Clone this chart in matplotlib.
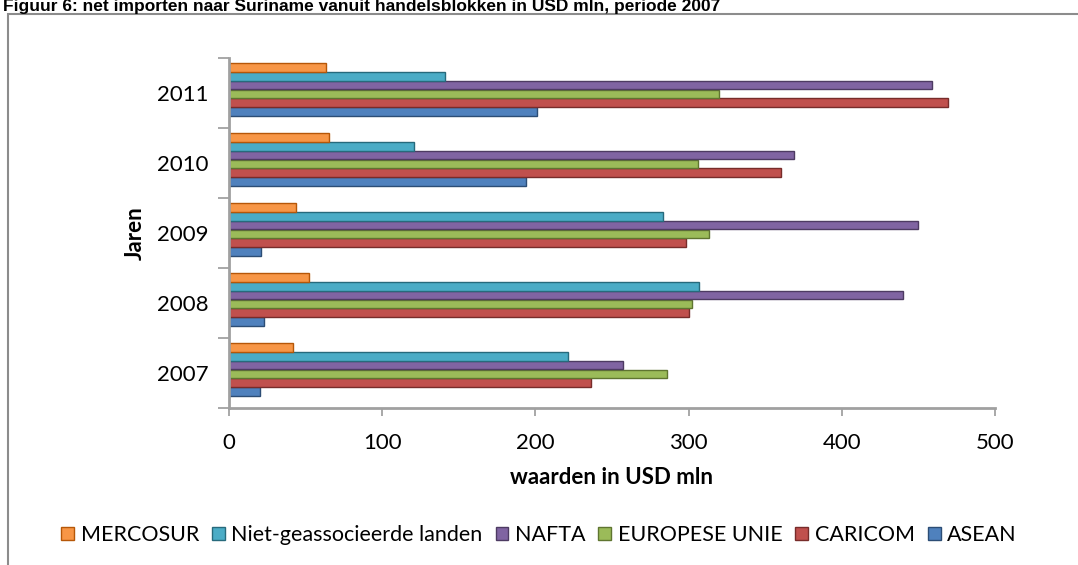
import numpy as np
import matplotlib.pyplot as plt
from matplotlib.patches import Rectangle

jaren = ['2007', '2008', '2009', '2010', '2011']
# bottom to top inside each year group
blokken = ['ASEAN', 'CARICOM', 'EUROPESE UNIE', 'NAFTA', 'Niet-geassocieerde landen', 'MERCOSUR']
asean = [20, 23, 21, 194, 201]
caricom = [236, 300, 298, 360, 469]
eu = [286, 302, 313, 306, 320]
nafta = [257, 440, 450, 369, 459]
niet = [221, 307, 283, 121, 141]
mercosur = [42, 52, 44, 65, 63]
waarden = [asean, caricom, eu, nafta, niet, mercosur]

kleuren = ['#4F81BD', '#C0504D', '#9BBB59', '#8064A2', '#4BACC6', '#F79646']
randen = ['#2C4D75', '#772C2A', '#5F7530', '#4D3B62', '#276A7C', '#B65708']

plt.rcParams['font.family'] = ['Lato', 'DejaVu Sans']

fig = plt.figure(figsize=(10.78, 5.65), dpi=100)
ax = fig.add_axes([229/1078, 1 - 408/565, 766/1078, 350/565])

y = np.arange(len(jaren))
h = 0.125
for i, (naam, vals) in enumerate(zip(blokken, waarden)):
    ax.barh(y + (i - 2.5) * h + 0.05, vals, height=h * 0.95, color=kleuren[i],
            edgecolor=randen[i], linewidth=1.0, label=naam)

ax.set_xlim(0, 500)
ax.set_ylim(-0.5, 4.5)
ax.set_xticks(range(0, 501, 100))
ax.set_yticks(y)
ax.set_yticklabels(jaren)
ax.set_yticks(np.arange(-0.5, 4.6, 1), minor=True)
ax.tick_params(axis='y', which='major', length=0, pad=15, labelsize=16)
ax.tick_params(axis='y', which='minor', length=8, color='#999999', width=1.2)
ax.tick_params(axis='x', length=6, color='#999999', width=1.2, pad=12, labelsize=16)

for s in ['top', 'right']:
    ax.spines[s].set_visible(False)
for s in ['left', 'bottom']:
    ax.spines[s].set_color('#A0A0A0')
    ax.spines[s].set_linewidth(2)

ax.set_xlabel('waarden in USD mln', fontsize=16, fontweight='bold', labelpad=10)
ax.set_ylabel('Jaren', fontsize=16, fontweight='bold', labelpad=8)

handles, labels = ax.get_legend_handles_labels()
ax.legend(handles[::-1], labels[::-1], loc='center', bbox_to_anchor=(0.5, 1 - 535/565),
          bbox_transform=fig.transFigure, ncol=6, frameon=False, fontsize=15.5,
          handlelength=0.6, handleheight=0.6, handletextpad=0.3, columnspacing=0.6)

fig.patches.append(Rectangle((8/1078, -0.01), 1.1, 1 - 14/565 + 0.01, transform=fig.transFigure,
                             fill=False, edgecolor='#8C8C8C', linewidth=1.5))
fig.text(0.003, 1 - 11/565, 'Figuur 6: net importen naar Suriname vanuit handelsblokken in USD mln, periode 2007',
         fontsize=12.5, fontweight='bold', family='Liberation Sans', va='baseline', ha='left')

fig.savefig('out.png', dpi=100)
